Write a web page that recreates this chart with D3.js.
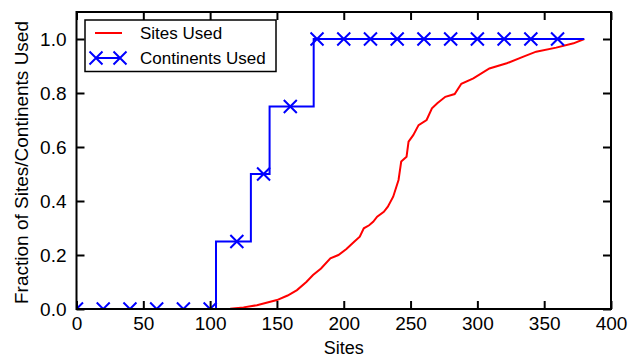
<!DOCTYPE html>
<html>
<head>
<meta charset="utf-8">
<script src="https://cdn.jsdelivr.net/npm/d3@7/dist/d3.min.js"></script>
<style>
body { margin: 0; background: white; }
text { font-family: "Liberation Sans", Arial, sans-serif; }
</style>
</head>
<body>
<div id="container"></div>
<script>
// red curve: fraction of sites used vs sites
const siteX = [105, 115, 125, 135, 150, 158, 165, 172, 177, 183, 190, 196, 202, 208, 212, 215, 219, 222, 225, 230, 233, 237, 241, 243, 247, 248.5, 252, 256, 262, 266, 270, 276, 283, 288, 297, 309, 322, 334, 344, 359, 372, 380];
const siteY = [0, 0.001, 0.006, 0.014, 0.033, 0.05, 0.07, 0.1, 0.126, 0.15, 0.188, 0.2, 0.222, 0.25, 0.268, 0.299, 0.31, 0.323, 0.342, 0.36, 0.379, 0.416, 0.478, 0.546, 0.564, 0.62, 0.644, 0.681, 0.7, 0.743, 0.762, 0.786, 0.796, 0.834, 0.854, 0.891, 0.91, 0.934, 0.953, 0.968, 0.984, 1.0];

// blue step: fraction of continents used
const contX = [0, 104.4, 130.5, 144.5, 177.5, 380];
const contY = [0, 0.25, 0.5, 0.75, 1.0, 1.0];
const markerX = [0, 20, 40, 60, 80, 100, 120, 140, 160, 180, 200, 220, 240, 260, 280, 300, 320, 340, 360];

const xTicks = [0, 50, 100, 150, 200, 250, 300, 350, 400];
const yTicks = [0, 0.2, 0.4, 0.6, 0.8, 1.0];

const w = 638, h = 358;
const pL = 76.5, pR = 611, pT = 12, pB = 309; // plot box

const svg = d3.select("#container").append("svg").attr("width", w).attr("height", h);

const x = d3.scaleLinear().domain([0, 400]).range([pL, pR]);
const y = d3.scaleLinear().domain([0, 1.1]).range([pB, pT]);

svg.append("clipPath").attr("id", "clip").append("rect")
	.attr("x", pL).attr("y", pT).attr("width", pR - pL).attr("height", pB - pT);

const plot = svg.append("g").attr("clip-path", "url(#clip)");

// step value at a given site count
function contAt(s) {
	let v = 0;
	for (let i = 0; i < contX.length; i++) if (s >= contX[i]) v = contY[i];
	return v;
}

const red = siteX.map((d, i) => [d, siteY[i]]);
plot.append("path").datum(red)
	.attr("d", d3.line().x(d => x(d[0])).y(d => y(d[1])))
	.attr("fill", "none").attr("stroke", "#ff0000").attr("stroke-width", 2);

const blue = contX.map((d, i) => [d, contY[i]]);
plot.append("path").datum(blue)
	.attr("d", d3.line().curve(d3.curveStepAfter).x(d => x(d[0])).y(d => y(d[1])))
	.attr("fill", "none").attr("stroke", "#0000ff").attr("stroke-width", 2);

const m = 6.5;
function cross(g, cx, cy) {
	g.append("path")
		.attr("d", `M${cx - m},${cy - m}L${cx + m},${cy + m}M${cx - m},${cy + m}L${cx + m},${cy - m}`)
		.attr("stroke", "#0000ff").attr("stroke-width", 2).attr("fill", "none");
}
markerX.forEach(s => cross(plot, x(s), y(contAt(s))));

// axes with inward ticks
const xb = svg.append("g").attr("transform", `translate(0,${pB})`)
	.call(d3.axisBottom(x).tickValues(xTicks).tickSizeInner(-8).tickSizeOuter(0).tickPadding(8));
const xt = svg.append("g").attr("transform", `translate(0,${pT})`)
	.call(d3.axisTop(x).tickValues(xTicks).tickSizeInner(-8).tickSizeOuter(0).tickFormat(""));
const yl = svg.append("g").attr("transform", `translate(${pL},0)`)
	.call(d3.axisLeft(y).tickValues(yTicks).tickSizeInner(-8).tickSizeOuter(0).tickPadding(10).tickFormat(d3.format(".1f")));
const yr = svg.append("g").attr("transform", `translate(${pR},0)`)
	.call(d3.axisRight(y).tickValues(yTicks).tickSizeInner(-8).tickSizeOuter(0).tickFormat(""));

[xb, xt, yl, yr].forEach(g => {
	g.select(".domain").remove();
	g.selectAll(".tick line").attr("stroke", "#000").attr("stroke-width", 2);
	g.selectAll(".tick text").attr("fill", "#000").style("font-size", "19px").style("font-family", "Liberation Sans, Arial, sans-serif");
});

svg.append("rect").attr("x", pL).attr("y", pT).attr("width", pR - pL).attr("height", pB - pT)
	.attr("fill", "none").attr("stroke", "#000").attr("stroke-width", 2);

svg.append("text").attr("x", (pL + pR) / 2).attr("y", 354).attr("text-anchor", "middle")
	.style("font-size", "18px").text("Sites");
svg.append("text").attr("transform", `translate(28,${(pT + pB) / 2 + 2}) rotate(-90)`)
	.attr("text-anchor", "middle").style("font-size", "19px").text("Fraction of Sites/Continents Used");

// legend
const lg = svg.append("g");
lg.append("rect").attr("x", 85).attr("y", 20).attr("width", 191).attr("height", 51.5)
	.attr("fill", "#fff").attr("stroke", "#000").attr("stroke-width", 1.5);
lg.append("line").attr("x1", 95).attr("x2", 122).attr("y1", 33).attr("y2", 33)
	.attr("stroke", "#ff0000").attr("stroke-width", 2);
lg.append("text").attr("x", 140).attr("y", 39).style("font-size", "17px").text("Sites Used");
lg.append("line").attr("x1", 96).attr("x2", 120).attr("y1", 58).attr("y2", 58)
	.attr("stroke", "#0000ff").attr("stroke-width", 2);
cross(lg, 96, 58);
cross(lg, 120, 58);
lg.append("text").attr("x", 140).attr("y", 64).style("font-size", "17px").text("Continents Used");
</script>
</body>
</html>
